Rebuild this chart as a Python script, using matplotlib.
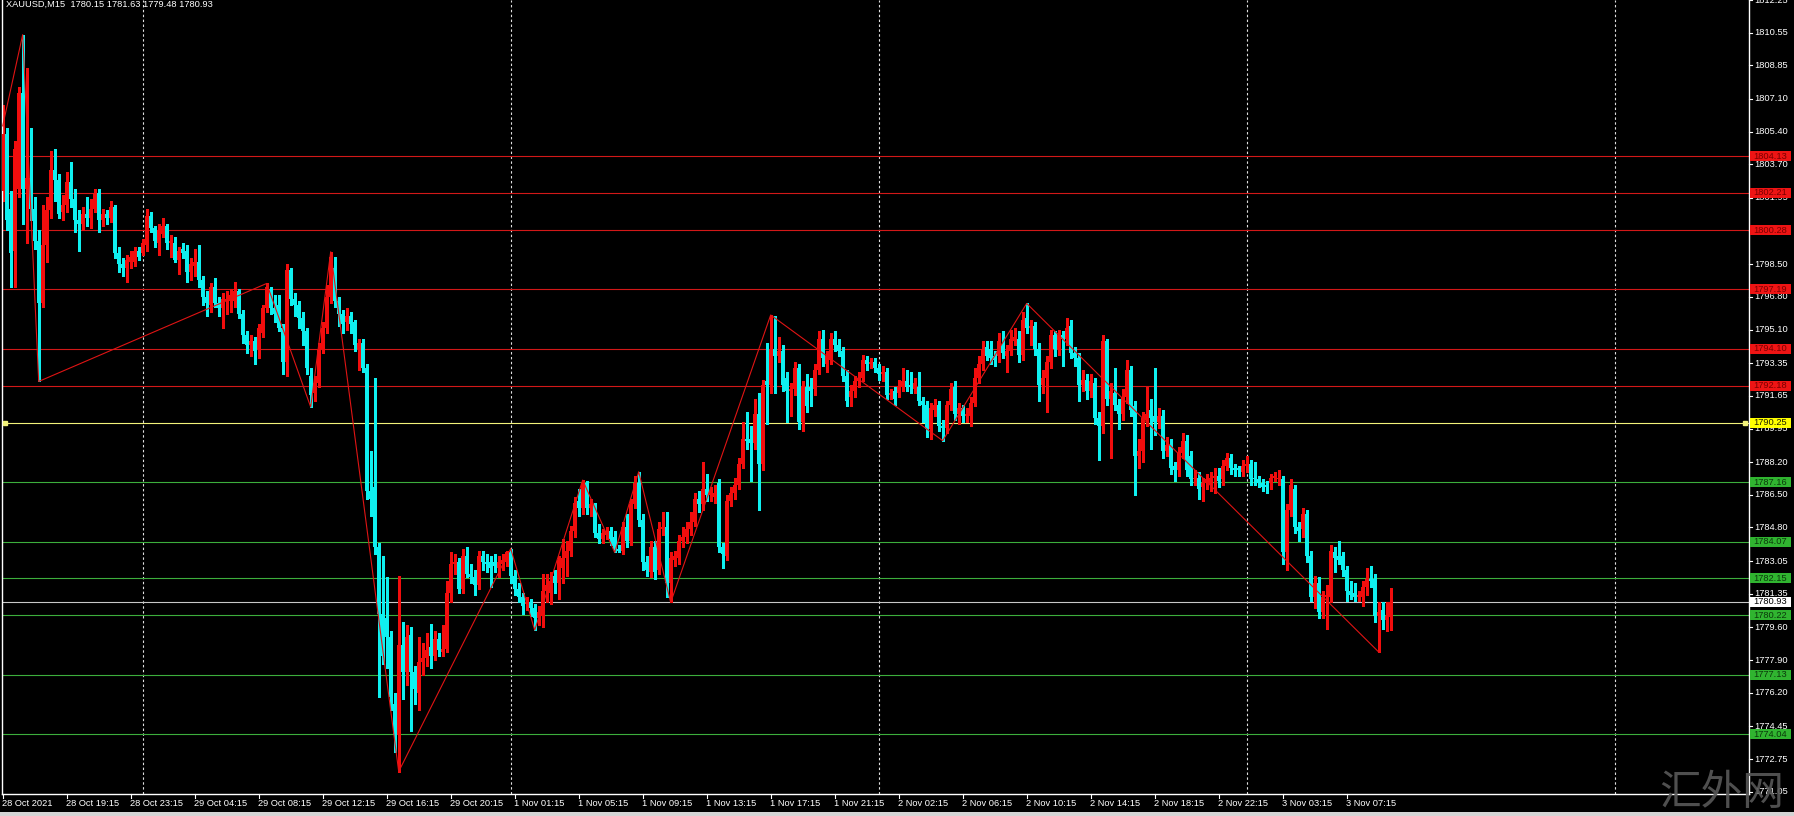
import matplotlib
matplotlib.use("Agg")
import matplotlib.pyplot as plt
from matplotlib.patches import Rectangle
from matplotlib.transforms import blended_transform_factory
import numpy as np

# XAUUSD M15 candles, 28 Oct 2021 -> 3 Nov 2021
opens = [
    1802.3, 1805.3, 1801.4, 1799.2, 1802.4, 1807.4, 1802.4, 1803.0, 1801.4, 1799.7,
    1796.5, 1799.5, 1801.3, 1803.4, 1802.9, 1801.2, 1801.6, 1802.8, 1801.9, 1800.8,
    1800.6, 1801.1, 1800.9, 1801.4, 1802.2, 1800.8, 1801.1, 1800.9, 1801.5, 1799.1,
    1798.5, 1798.3, 1798.6, 1798.6, 1799.2, 1799.1, 1799.5, 1801.0, 1800.4, 1799.6,
    1800.1, 1800.5, 1799.6, 1799.6, 1798.7, 1799.3, 1799.2, 1798.1, 1798.4, 1798.6,
    1797.7, 1796.8, 1796.4, 1797.3, 1796.5, 1796.2, 1796.6, 1796.6, 1796.6, 1797.1,
    1795.9, 1794.8, 1794.3, 1794.5, 1794.1, 1794.9, 1796.2, 1797.2, 1796.2, 1796.4,
    1795.2, 1793.4, 1798.2, 1796.7, 1796.4, 1795.7, 1795.0, 1792.7, 1791.8, 1792.3,
    1794.1, 1795.2, 1796.8, 1798.3, 1796.6, 1795.9, 1795.5, 1795.8, 1795.5, 1794.1,
    1794.4, 1793.1, 1786.7, 1786.9, 1783.8, 1780.3, 1780.1, 1779.1, 1775.6, 1774.0,
    1778.7, 1777.3, 1779.2, 1777.3, 1776.2, 1777.8, 1778.0, 1778.6, 1778.1, 1779.0,
    1778.3, 1778.5, 1781.4, 1782.9, 1783.0, 1781.6, 1783.3, 1782.4, 1782.2, 1781.8,
    1783.3, 1783.0, 1783.0, 1783.0, 1782.7, 1782.9, 1783.0, 1783.5, 1782.3, 1781.6,
    1781.2, 1780.8, 1780.9, 1780.6, 1780.1, 1780.2, 1781.5, 1781.4, 1782.3, 1781.9,
    1782.7, 1783.2, 1783.6, 1784.6, 1786.2, 1785.8, 1787.1, 1785.8, 1786.0, 1784.5,
    1784.2, 1784.4, 1784.6, 1784.3, 1783.7, 1783.6, 1784.8, 1784.1, 1786.0, 1787.1,
    1785.2, 1783.0, 1782.5, 1783.8, 1782.6, 1784.7, 1784.8, 1781.9, 1783.1, 1783.2,
    1784.1, 1784.3, 1784.7, 1785.1, 1786.3, 1786.0, 1786.8, 1786.5, 1786.4, 1787.1,
    1783.8, 1783.3, 1786.2, 1786.6, 1787.0, 1788.1, 1789.4, 1789.4, 1789.2, 1790.7,
    1788.1, 1792.4, 1792.2, 1794.1, 1793.7, 1794.0, 1792.6, 1791.9, 1792.0, 1793.1,
    1790.3, 1792.1, 1792.1, 1792.0, 1793.0, 1794.6, 1793.3, 1793.5, 1794.6, 1794.3,
    1794.0, 1792.7, 1791.6, 1791.9, 1792.4, 1792.6, 1793.5, 1793.3, 1793.4, 1793.1,
    1792.8, 1792.9, 1791.7, 1791.9, 1791.8, 1792.1, 1792.4, 1792.2, 1792.0, 1792.1,
    1791.4, 1791.2, 1789.9, 1790.9, 1791.2, 1790.1, 1790.0, 1791.2, 1792.1, 1790.7,
    1791.0, 1790.6, 1790.6, 1791.3, 1792.6, 1793.3, 1794.2, 1794.1, 1793.7, 1793.7,
    1794.3, 1793.7, 1794.0, 1794.5, 1794.6, 1793.8, 1795.7, 1795.2, 1795.3, 1794.1,
    1792.2, 1792.6, 1793.4, 1794.8, 1794.1, 1794.8, 1794.6, 1795.3, 1793.9, 1793.6,
    1792.2, 1792.5, 1791.9, 1792.3, 1790.5, 1790.1, 1794.5, 1791.5, 1791.8, 1791.2,
    1790.7, 1791.6, 1793.0, 1791.1, 1788.5, 1788.8, 1790.4, 1790.9, 1790.6, 1790.3,
    1790.6, 1788.8, 1789.1, 1788.0, 1787.8, 1788.7, 1789.3, 1788.5, 1787.3, 1787.4,
    1786.9, 1787.1, 1787.0, 1787.4, 1787.5, 1787.3, 1788.0, 1788.4, 1787.9, 1787.9,
    1787.7, 1788.0, 1788.1, 1787.4, 1787.3, 1787.1, 1787.0, 1787.1, 1787.4, 1787.3,
    1787.3, 1783.5, 1785.7, 1786.8, 1784.8, 1784.7, 1785.5, 1783.3, 1781.2, 1781.9,
    1780.4, 1781.2, 1781.2, 1783.5, 1783.3, 1783.3, 1782.6, 1781.5, 1781.4, 1781.2,
    1781.2, 1781.7, 1782.1, 1782.1, 1780.2, 1780.5, 1780.0, 1780.15,
]
highs = [
    1806.8, 1805.6, 1802.3, 1804.9, 1807.7, 1810.45, 1808.7, 1805.6, 1802.0, 1800.3,
    1801.6, 1802.0, 1804.4, 1804.5, 1803.2, 1802.1, 1803.3, 1803.8, 1802.4, 1801.3,
    1801.5, 1802.0, 1801.9, 1802.4, 1802.4, 1801.4, 1801.3, 1801.8, 1801.6, 1799.4,
    1798.8, 1799.0, 1799.2, 1799.4, 1799.4, 1799.8, 1801.4, 1801.2, 1800.5, 1800.6,
    1800.9, 1800.6, 1800.0, 1799.9, 1799.4, 1799.6, 1799.5, 1798.8, 1799.3, 1799.5,
    1797.9, 1797.1, 1797.5, 1797.8, 1796.8, 1797.0, 1797.1, 1797.2, 1797.6, 1797.2,
    1796.1, 1795.0, 1794.8, 1794.7, 1795.4, 1796.4, 1797.5, 1797.3, 1796.9, 1796.9,
    1795.4, 1798.5, 1798.3, 1797.0, 1796.6, 1796.0, 1795.2, 1793.1, 1792.7, 1794.4,
    1795.5, 1797.4, 1799.15, 1798.9, 1796.8, 1796.1, 1796.2, 1796.0, 1795.6, 1794.6,
    1794.6, 1793.3, 1788.8, 1792.6, 1784.0, 1783.3, 1782.2, 1779.4, 1776.2, 1782.3,
    1779.9, 1779.7, 1779.6, 1777.6, 1779.1, 1778.8, 1779.3, 1779.8, 1779.4, 1779.3,
    1779.7, 1782.0, 1783.5, 1783.4, 1783.2, 1783.7, 1783.8, 1782.9, 1782.6, 1783.6,
    1783.6, 1783.4, 1783.3, 1783.4, 1783.3, 1783.4, 1783.6, 1783.7, 1782.6, 1781.9,
    1781.4, 1781.2, 1781.1, 1780.8, 1780.7, 1782.4, 1782.4, 1782.5, 1782.6, 1783.3,
    1784.2, 1784.1, 1784.9, 1786.4, 1786.8, 1787.27, 1787.2, 1786.3, 1786.1, 1785.0,
    1784.7, 1784.8, 1784.8, 1784.6, 1783.9, 1785.1, 1785.5, 1786.3, 1787.5, 1787.7,
    1785.5, 1783.3, 1784.1, 1784.1, 1785.1, 1785.6, 1785.6, 1783.5, 1783.6, 1784.4,
    1784.8, 1785.1, 1785.6, 1786.6, 1786.7, 1788.2, 1787.6, 1786.9, 1787.0, 1787.3,
    1784.0, 1786.5, 1786.9, 1787.4, 1788.4, 1790.3, 1790.8, 1790.1, 1791.5, 1791.8,
    1792.5, 1794.4, 1795.86, 1795.8, 1794.7, 1794.3, 1792.9, 1792.3, 1793.4, 1793.3,
    1792.4, 1792.8, 1792.6, 1793.3, 1795.0, 1795.1, 1794.0, 1794.9, 1795.0, 1794.6,
    1794.2, 1793.0, 1792.2, 1792.7, 1792.9, 1793.8, 1793.7, 1793.6, 1793.6, 1793.3,
    1793.2, 1793.1, 1792.0, 1792.1, 1792.5, 1793.1, 1793.0, 1792.9, 1792.6, 1792.9,
    1791.6, 1791.4, 1791.3, 1791.5, 1791.4, 1790.4, 1791.4, 1792.3, 1792.4, 1791.3,
    1791.2, 1791.0, 1791.6, 1793.1, 1793.7, 1794.5, 1794.5, 1794.5, 1794.0, 1794.9,
    1795.0, 1794.3, 1795.1, 1795.2, 1795.0, 1796.0, 1796.46, 1795.6, 1795.5, 1794.4,
    1793.0, 1793.7, 1795.1, 1795.0, 1795.1, 1795.0, 1795.7, 1795.6, 1794.2, 1793.9,
    1793.0, 1792.8, 1792.8, 1792.6, 1790.8, 1794.8, 1794.6, 1792.3, 1793.1, 1791.5,
    1792.0, 1793.5, 1793.2, 1791.4, 1789.4, 1790.8, 1792.1, 1791.5, 1793.1, 1791.0,
    1790.9, 1789.5, 1789.4, 1788.2, 1789.0, 1789.7, 1789.6, 1788.8, 1787.8, 1787.7,
    1787.4, 1787.6, 1787.7, 1787.9, 1787.9, 1788.3, 1788.7, 1788.6, 1788.1, 1788.0,
    1788.3, 1788.5, 1788.3, 1788.2, 1787.5, 1787.3, 1787.2, 1787.6, 1787.7, 1787.8,
    1787.5, 1786.0, 1787.3, 1787.0, 1785.1, 1785.8, 1785.7, 1783.6, 1782.3, 1782.2,
    1781.5, 1781.8, 1783.9, 1783.8, 1784.1, 1783.5, 1782.8, 1782.0, 1781.9, 1781.5,
    1782.0, 1782.7, 1782.8, 1782.4, 1780.9, 1780.9, 1780.9, 1781.63,
]
lows = [
    1801.8, 1800.3, 1797.3, 1797.3, 1802.0, 1800.6, 1799.6, 1800.8, 1799.3, 1792.4,
    1796.3, 1798.6, 1800.9, 1801.8, 1800.9, 1800.8, 1801.2, 1801.5, 1800.2, 1799.2,
    1800.3, 1800.5, 1800.4, 1801.2, 1800.2, 1800.5, 1800.6, 1800.7, 1798.8, 1798.1,
    1797.9, 1797.6, 1798.3, 1798.4, 1798.7, 1799.0, 1799.2, 1800.2, 1799.4, 1799.0,
    1799.9, 1799.3, 1798.9, 1798.6, 1798.0, 1798.8, 1797.6, 1797.7, 1797.9, 1797.3,
    1796.4, 1795.8, 1796.0, 1796.3, 1795.8, 1795.2, 1795.9, 1796.0, 1796.3, 1795.7,
    1794.4, 1793.9, 1793.7, 1793.3, 1793.6, 1794.7, 1796.0, 1795.9, 1795.5, 1795.0,
    1792.8, 1792.7, 1796.4, 1795.8, 1795.2, 1794.3, 1792.8, 1791.07, 1791.4, 1792.1,
    1793.9, 1794.9, 1796.5, 1796.3, 1795.3, 1794.9, 1795.1, 1794.9, 1794.0, 1793.0,
    1792.9, 1786.3, 1785.4, 1783.4, 1776.0, 1777.7, 1777.5, 1775.3, 1773.1, 1772.1,
    1775.9, 1776.6, 1774.2, 1775.6, 1775.3, 1777.1, 1777.6, 1777.5, 1777.9, 1778.1,
    1778.1, 1778.3, 1780.9, 1782.4, 1781.4, 1781.4, 1782.2, 1781.9, 1781.3, 1781.6,
    1782.6, 1782.5, 1781.7, 1782.5, 1782.2, 1782.6, 1782.8, 1781.9, 1781.3, 1780.9,
    1780.3, 1780.5, 1780.2, 1779.46, 1779.7, 1779.6, 1780.9, 1780.8, 1781.4, 1781.1,
    1781.9, 1782.3, 1783.3, 1784.3, 1785.4, 1785.5, 1785.5, 1785.4, 1784.3, 1784.0,
    1784.0, 1784.2, 1783.9, 1783.5, 1783.5, 1783.4, 1783.8, 1783.9, 1785.8, 1784.9,
    1782.6, 1782.3, 1782.2, 1782.1, 1782.4, 1784.4, 1781.2, 1780.9, 1782.8, 1782.9,
    1783.8, 1784.0, 1784.4, 1784.9, 1785.6, 1785.7, 1786.2, 1786.2, 1786.1, 1783.5,
    1782.7, 1783.1, 1785.9, 1786.3, 1786.8, 1787.9, 1788.9, 1787.2, 1788.9, 1785.7,
    1787.8, 1790.2, 1791.8, 1791.8, 1793.4, 1791.9, 1790.3, 1790.6, 1791.7, 1789.9,
    1789.8, 1790.8, 1791.1, 1791.7, 1792.8, 1793.2, 1792.9, 1793.3, 1794.0, 1793.7,
    1792.4, 1791.1, 1791.1, 1791.6, 1792.1, 1792.4, 1793.0, 1793.1, 1792.9, 1792.5,
    1792.4, 1791.5, 1791.5, 1791.2, 1791.6, 1791.9, 1791.9, 1791.8, 1791.8, 1791.2,
    1790.3, 1789.5, 1789.4, 1790.6, 1789.8, 1789.32, 1789.7, 1790.9, 1790.4, 1790.2,
    1790.3, 1790.3, 1790.1, 1791.1, 1792.3, 1793.0, 1793.5, 1793.3, 1793.2, 1793.4,
    1793.6, 1792.9, 1793.8, 1794.3, 1793.4, 1793.5, 1794.9, 1794.3, 1793.8, 1791.4,
    1791.8, 1790.8, 1793.1, 1793.7, 1793.8, 1793.2, 1794.3, 1793.6, 1793.2, 1791.4,
    1791.9, 1791.5, 1791.6, 1790.2, 1788.3, 1789.7, 1791.2, 1788.4, 1790.9, 1789.9,
    1790.4, 1791.3, 1790.6, 1786.5, 1787.9, 1788.2, 1790.1, 1788.9, 1789.6, 1790.0,
    1788.4, 1788.5, 1787.6, 1787.2, 1787.5, 1788.4, 1787.5, 1787.0, 1787.0, 1786.3,
    1786.2, 1786.8, 1786.7, 1786.6, 1786.9, 1787.0, 1787.8, 1787.6, 1787.5, 1787.5,
    1787.5, 1787.7, 1787.0, 1787.0, 1786.9, 1786.7, 1786.6, 1786.8, 1787.2, 1787.0,
    1782.9, 1782.6, 1785.4, 1784.5, 1784.1, 1784.3, 1783.0, 1781.0, 1780.6, 1780.1,
    1780.1, 1779.5, 1780.9, 1782.5, 1782.9, 1782.3, 1781.0, 1781.1, 1781.0, 1781.0,
    1780.7, 1781.3, 1781.7, 1779.9, 1778.32, 1779.5, 1779.4, 1779.48,
]
closes = [
    1805.3, 1800.8, 1799.1, 1804.5, 1807.4, 1802.4, 1803.0, 1801.4, 1799.7, 1796.5,
    1799.5, 1801.3, 1803.4, 1802.9, 1801.1, 1801.6, 1802.8, 1801.9, 1800.8, 1800.6,
    1801.1, 1800.9, 1801.4, 1802.2, 1800.8, 1801.1, 1800.9, 1801.5, 1799.1, 1798.5,
    1798.3, 1798.7, 1798.9, 1799.2, 1798.9, 1799.6, 1801.0, 1800.4, 1799.7, 1800.3,
    1800.5, 1799.6, 1799.7, 1798.7, 1799.2, 1799.1, 1798.1, 1798.5, 1798.6, 1797.7,
    1796.8, 1796.5, 1797.3, 1796.5, 1796.2, 1796.7, 1796.7, 1796.9, 1797.1, 1795.9,
    1794.8, 1794.3, 1794.5, 1794.0, 1795.2, 1796.2, 1797.3, 1796.2, 1795.9, 1795.2,
    1793.4, 1798.2, 1796.7, 1796.4, 1795.7, 1795.0, 1793.1, 1791.7, 1792.3, 1794.1,
    1795.2, 1796.8, 1798.9, 1796.6, 1795.9, 1795.4, 1795.8, 1795.4, 1794.3, 1794.4,
    1793.1, 1786.7, 1786.3, 1783.8, 1780.3, 1778.1, 1779.1, 1776.0, 1774.0, 1778.7,
    1777.3, 1779.1, 1777.3, 1776.4, 1777.8, 1778.0, 1778.4, 1778.1, 1779.0, 1778.4,
    1778.5, 1781.4, 1782.9, 1783.0, 1781.6, 1783.3, 1782.4, 1782.2, 1781.8, 1783.3,
    1783.0, 1782.9, 1782.7, 1782.8, 1783.0, 1783.1, 1783.5, 1782.3, 1781.6, 1781.2,
    1780.7, 1780.9, 1780.6, 1780.1, 1780.4, 1781.5, 1781.8, 1782.0, 1781.9, 1783.1,
    1783.2, 1783.6, 1784.6, 1786.1, 1785.8, 1787.1, 1785.8, 1786.0, 1784.5, 1784.2,
    1784.5, 1784.6, 1784.2, 1783.7, 1783.6, 1784.8, 1784.1, 1786.0, 1787.1, 1785.2,
    1783.0, 1782.6, 1783.8, 1782.5, 1784.7, 1784.8, 1781.9, 1783.2, 1783.3, 1784.1,
    1784.3, 1784.7, 1785.1, 1786.3, 1786.0, 1786.8, 1786.5, 1786.7, 1786.6, 1783.8,
    1783.4, 1786.2, 1786.6, 1787.0, 1788.1, 1789.4, 1789.3, 1789.2, 1790.7, 1788.1,
    1792.2, 1792.2, 1794.1, 1793.7, 1794.0, 1792.2, 1791.9, 1792.0, 1793.1, 1790.3,
    1792.1, 1791.1, 1791.9, 1793.0, 1794.6, 1793.6, 1793.7, 1794.6, 1794.3, 1794.0,
    1792.7, 1791.4, 1791.9, 1792.4, 1792.6, 1793.5, 1793.3, 1793.4, 1793.1, 1792.8,
    1792.9, 1791.7, 1791.8, 1791.5, 1792.1, 1792.4, 1792.1, 1792.1, 1792.3, 1791.4,
    1791.2, 1789.9, 1791.0, 1791.2, 1790.1, 1790.0, 1791.2, 1792.0, 1790.7, 1791.0,
    1790.6, 1790.7, 1791.3, 1792.6, 1793.3, 1794.1, 1793.7, 1793.6, 1793.5, 1794.5,
    1793.9, 1794.0, 1794.6, 1794.7, 1793.8, 1795.6, 1795.2, 1795.3, 1794.1, 1792.2,
    1792.6, 1793.4, 1794.8, 1794.1, 1794.8, 1794.6, 1795.2, 1793.9, 1793.6, 1792.2,
    1792.5, 1791.9, 1792.4, 1790.5, 1790.1, 1794.5, 1791.5, 1791.9, 1791.2, 1790.7,
    1791.6, 1793.0, 1790.9, 1788.5, 1788.8, 1790.5, 1790.7, 1790.5, 1790.3, 1790.6,
    1788.8, 1789.1, 1787.9, 1787.8, 1788.7, 1789.3, 1787.8, 1787.3, 1787.4, 1786.8,
    1787.1, 1787.3, 1787.4, 1787.5, 1787.2, 1788.0, 1788.4, 1787.9, 1787.8, 1787.8,
    1788.0, 1788.1, 1787.3, 1787.3, 1787.1, 1786.9, 1786.9, 1787.4, 1787.5, 1787.4,
    1783.5, 1785.7, 1787.0, 1784.8, 1784.6, 1785.5, 1783.3, 1781.2, 1781.9, 1780.4,
    1781.2, 1781.3, 1783.6, 1783.2, 1783.1, 1782.6, 1781.5, 1781.3, 1781.2, 1781.3,
    1781.7, 1782.1, 1782.0, 1780.2, 1780.4, 1780.0, 1780.2, 1780.93,
]

# zigzag pivots (bar index, price)
zigzag_bars = [0, 5, 9, 66, 77, 82, 99, 127, 133, 145, 153, 159, 167, 192, 235, 256, 344]
zigzag_prices = [1805.7, 1810.45, 1792.4, 1797.5, 1791.07, 1799.15, 1772.1, 1783.7, 1779.46,
                 1787.27, 1783.5, 1787.7, 1780.9, 1795.86, 1789.32, 1796.46, 1778.32]

# horizontal levels
resist_levels = [1804.13, 1802.21, 1800.28, 1797.19, 1794.10, 1792.18]
pivot_level = 1790.25
support_levels = [1787.16, 1784.07, 1782.15, 1780.22, 1777.13, 1774.04]
last_price = 1780.93

# price scale labels
price_ticks = ["1812.25", "1810.55", "1808.85", "1807.10", "1805.40", "1803.70", "1801.95",
               "1800.25", "1798.50", "1796.80", "1795.10", "1793.35", "1791.65", "1789.95",
               "1788.20", "1786.50", "1784.80", "1783.05", "1781.35", "1779.60", "1777.90",
               "1776.20", "1774.45", "1772.75", "1771.05"]

# time scale labels, one every 16 bars
time_labels = ["28 Oct 2021", "28 Oct 19:15", "28 Oct 23:15", "29 Oct 04:15", "29 Oct 08:15",
               "29 Oct 12:15", "29 Oct 16:15", "29 Oct 20:15", "1 Nov 01:15", "1 Nov 05:15",
               "1 Nov 09:15", "1 Nov 13:15", "1 Nov 17:15", "1 Nov 21:15", "2 Nov 02:15",
               "2 Nov 06:15", "2 Nov 10:15", "2 Nov 14:15", "2 Nov 18:15", "2 Nov 22:15",
               "3 Nov 03:15", "3 Nov 07:15"]
grid_bars = [35, 127, 219, 311, 403]

W, H = 1794, 816
FONT = "Liberation Sans"
UP = "#f20d0d"
DOWN = "#0ff0f0"

fig = plt.figure(figsize=(W / 100, H / 100), dpi=100, facecolor="black")
ax = fig.add_axes([1.5 / W, 22 / H, 1747.5 / W, 794 / H])
ax.set_facecolor("black")
ax.set_xlim(-0.3, -0.3 + 1747.5 / 4)
ax.set_ylim(1770.93, 1812.252)
ax.set_xticks([])
ax.set_yticks([])
ax.spines["top"].set_visible(False)
for s in ["left", "bottom", "right"]:
    ax.spines[s].set_color("white")
    ax.spines[s].set_linewidth(1.0)

o = np.array(opens)
h = np.array(highs)
l = np.array(lows)
c = np.array(closes)
x = np.arange(len(c))
up = c >= o
cols = np.where(up, UP, DOWN)

# grid (dashed verticals)
for gb in grid_bars:
    ax.axvline(gb, color="#e0e0e0", lw=0.8, ls=(0, (2.2, 2.2)), zorder=1)

# levels
for lv in resist_levels:
    ax.axhline(lv, color="#d21818", lw=0.8, zorder=1)
for lv in support_levels:
    ax.axhline(lv, color="#3cae3c", lw=0.8, zorder=1)
ax.axhline(pivot_level, color="#f2f27a", lw=0.8, zorder=1)
ax.axhline(last_price, color="#c8c8c8", lw=0.8, zorder=1)

# candles
ax.vlines(x, l, h, colors=cols, lw=0.75, zorder=2, antialiased=False)
body_lo = np.minimum(o, c)
body_h = np.maximum(np.abs(c - o), 0.05)
ax.bar(x, body_h, bottom=body_lo, width=0.8, color=cols, linewidth=0, zorder=3,
       antialiased=False)

# zigzag
ax.plot(zigzag_bars, zigzag_prices, color="#e01414", lw=0.8, zorder=4)

# yellow markers at both ends of pivot line
bl = blended_transform_factory(ax.transAxes, ax.transData)
ax.plot([0.002, 0.9975], [pivot_level, pivot_level], transform=bl, ls="none",
        marker="s", ms=3.2, color="#f2f27a", clip_on=False, zorder=5)

# price scale
ax_w = 1747.5
for t in price_ticks:
    p = float(t)
    ax.plot([1.0, 1.0 + 3 / ax_w], [p, p], transform=bl, color="white", lw=0.8,
            clip_on=False, zorder=5)
    ax.text(1.0 + 5 / ax_w, p, t, transform=bl, color="white", fontsize=6.7,
            family=FONT, va="center", ha="left", clip_on=False, zorder=5)

box_h = 10 / 19.215
def price_box(p, face, txtcol):
    ax.add_patch(Rectangle((1.0 + 1 / ax_w, p - box_h / 2), 41 / ax_w, box_h,
                           transform=bl, facecolor=face, edgecolor="none",
                           clip_on=False, zorder=6))
    ax.text(1.0 + 4.5 / ax_w, p, "%.2f" % p, transform=bl, color=txtcol, fontsize=6.7,
            family=FONT, va="center", ha="left", clip_on=False, zorder=7)

for lv in resist_levels:
    price_box(lv, "#ee1414", "#7a0000")
for lv in support_levels:
    price_box(lv, "#30b430", "#0b3a0b")
price_box(pivot_level, "#ffff00", "#202000")
price_box(last_price, "#ffffff", "#000000")

# time scale
bt = blended_transform_factory(ax.transData, ax.transAxes)
for k, lab in enumerate(time_labels):
    xb = 16 * k
    ax.plot([xb, xb], [0, -4 / 794], transform=bt, color="white", lw=0.8,
            clip_on=False, zorder=5)
    ax.text(xb - 0.3, -9 / 794, lab, transform=bt, color="white", fontsize=6.7,
            family=FONT, va="center", ha="left", clip_on=False)

# header
fig.text(6 / W, 1 - 4 / H, "XAUUSD,M15  1780.15 1781.63 1779.48 1780.93", color="white",
         fontsize=6.7, family=FONT, va="center", ha="left")

# watermark
fig.text(1722 / W, 1 - 794 / H, "汇外网", color="#585858", fontsize=30,
         family=["Noto Sans CJK SC", "DejaVu Sans"], va="center", ha="center", alpha=0.9)

# window border strip at the bottom
fig.patches.append(Rectangle((0, 0), 1, 4 / H, transform=fig.transFigure,
                             facecolor="#d4d4d4", edgecolor="none"))

fig.savefig("out.png", dpi=100, facecolor="black")
